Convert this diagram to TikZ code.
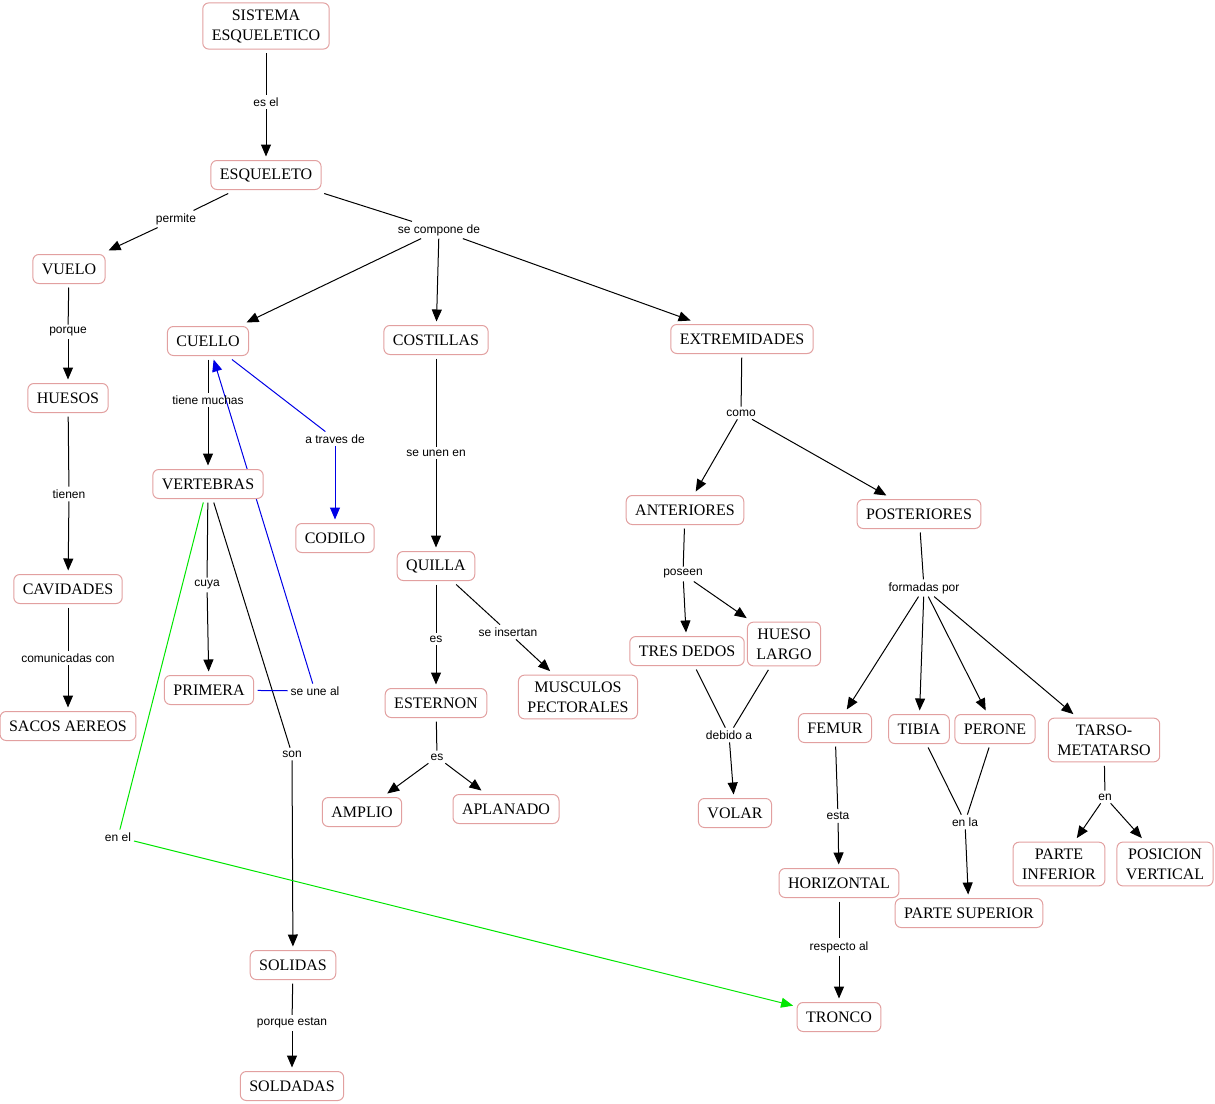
\documentclass[tikz,border=0pt]{standalone}
\usepackage{fontspec}
\setmainfont{Liberation Serif}
\newfontfamily\linkfont{Liberation Sans}
\usetikzlibrary{arrows.meta,backgrounds}
\definecolor{cmapedge}{RGB}{226,160,160}
\definecolor{cmapblue}{RGB}{0,0,230}
\definecolor{cmapgreen}{RGB}{0,230,0}

\tikzset{
    concept/.style={draw=cmapedge, fill=white, rounded corners=6pt, align=center,
        inner xsep=9pt, inner ysep=6.5pt, minimum height=29pt, outer sep=4pt,
        font=\fontsize{16}{20}\selectfont},
    link/.style={font=\linkfont\fontsize{12}{14}\selectfont, inner sep=2pt, outer sep=1pt},
    tip/.style={-{Triangle[length=12pt,width=10pt]}},
    connector/.style={line width=1pt},
}

\begin{document}
\begin{tikzpicture}[x=1pt,y=-1pt,line width=1pt]
        \useasboundingbox (0,0) rectangle (1215,1103);

        % concepts
        \node[concept] (sis) at (266,26) {SISTEMA\\ESQUELETICO};
        \node[concept] (esq) at (266,175) {ESQUELETO};
        \node[concept] (vuelo) at (69,269) {VUELO};
        \node[concept] (huesos) at (68,398) {HUESOS};
        \node[concept] (cavid) at (68,589) {CAVIDADES};
        \node[concept] (sacos) at (68,726) {SACOS AEREOS};
        \node[concept] (cuello) at (208,341) {CUELLO};
        \node[concept] (vert) at (208,484) {VERTEBRAS};
        \node[concept] (codilo) at (335,538) {CODILO};
        \node[concept] (primera) at (209,690) {PRIMERA};
        \node[concept] (solidas) at (293,965) {SOLIDAS};
        \node[concept] (soldadas) at (292,1086) {SOLDADAS};
        \node[concept] (cost) at (436,340) {COSTILLAS};
        \node[concept] (quilla) at (436,566) {QUILLA};
        \node[concept] (estern) at (436,703) {ESTERNON};
        \node[concept] (musc) at (578,697) {MUSCULOS\\PECTORALES};
        \node[concept] (amplio) at (362,812) {AMPLIO};
        \node[concept] (aplan) at (506,809) {APLANADO};
        \node[concept] (extrem) at (742,339) {EXTREMIDADES};
        \node[concept] (anter) at (685,510) {ANTERIORES};
        \node[concept] (poster) at (919,514) {POSTERIORES};
        \node[concept] (tres) at (687,651) {TRES DEDOS};
        \node[concept] (hueso) at (784,644) {HUESO\\LARGO};
        \node[concept] (volar) at (735,813) {VOLAR};
        \node[concept] (femur) at (835,728) {FEMUR};
        \node[concept] (tibia) at (919,729) {TIBIA};
        \node[concept] (perone) at (995,729) {PERONE};
        \node[concept] (tarso) at (1104,740) {TARSO-\\METATARSO};
        \node[concept] (pinf) at (1059,864) {PARTE\\INFERIOR};
        \node[concept] (pvert) at (1165,864) {POSICION\\VERTICAL};
        \node[concept] (psup) at (969,913) {PARTE SUPERIOR};
        \node[concept] (horiz) at (839,883) {HORIZONTAL};
        \node[concept] (tronco) at (839,1017) {TRONCO};

        % linking phrases
        \node[link] (esel) at (266,102) {es el};
        \node[link] (permite) at (176,219) {permite};
        \node[link] (secomp) at (439,230) {se compone de};
        \node[link] (porque) at (68,332) {porque};
        \node[link] (tienen) at (69,494) {tienen};
        \node[link] (comun) at (68,658) {comunicadas con};
        \node[link] (tiene) at (208,400) {tiene muchas};
        \node[link] (traves) at (335,439) {a traves de};
        \node[link] (cuya) at (207,585) {cuya};
        \node[link] (seune) at (315,691) {se une al};
        \node[link] (son) at (292,754) {son};
        \node[link] (enel) at (118,837) {en el};
        \node[link] (porqueest) at (292,1023) {porque estan};
        \node[link] (seunen) at (436,453) {se unen en};
        \node[link] (esA) at (436,639) {es};
        \node[link] (seinsert) at (508,632) {se insertan};
        \node[link] (esB) at (437,757) {es};
        \node[link] (como) at (741,413) {como};
        \node[link] (poseen) at (683,574) {poseen};
        \node[link] (debido) at (729,735) {debido a};
        \node[link] (formadas) at (924,588) {formadas por};
        \node[link] (esta) at (838,816) {esta};
        \node[link] (respecto) at (839,947) {respecto al};
        \node[link] (enla) at (965,822) {en la};
        \node[link] (en) at (1105,797) {en};

        \begin{pgfonlayer}{background}
        % concept to phrase
        \foreach \a/\b in {sis/esel, esq/permite, esq/secomp, vuelo/porque,
            huesos/tienen, cavid/comun, cuello/tiene, vert/cuya, vert/son,
            solidas/porqueest, cost/seunen, quilla/esA, quilla/seinsert,
            estern/esB, extrem/como, anter/poseen, tres/debido, hueso/debido,
            poster/formadas, femur/esta, horiz/respecto, tibia/enla,
            perone/enla, tarso/en}{
            \draw[connector] (\a) -- (\b);
        }

        % phrase to concept
        \foreach \a/\b in {esel/esq, permite/vuelo, secomp/cuello, secomp/cost,
            secomp/extrem, porque/huesos, tienen/cavid, comun/sacos,
            tiene/vert, cuya/primera, son/solidas, porqueest/soldadas,
            seunen/quilla, esA/estern, seinsert/musc, esB/amplio, esB/aplan,
            como/anter, como/poster, poseen/tres, poseen/hueso, debido/volar,
            formadas/femur, formadas/tibia, formadas/perone, formadas/tarso,
            esta/horiz, respecto/tronco, enla/psup, en/pinf, en/pvert}{
            \draw[connector,tip] (\a) -- (\b);
        }

        % blue links
        \draw[connector,cmapblue] (cuello) -- (traves);
        \draw[connector,cmapblue,tip] (traves) -- (codilo);
        \draw[connector,cmapblue] (primera) -- (seune);
        \draw[connector,cmapblue,tip] (seune) -- (cuello);

        % green link
        \draw[connector,cmapgreen] (vert) -- (enel);
        \draw[connector,cmapgreen,tip] (enel) -- (tronco);
        \end{pgfonlayer}
\end{tikzpicture}
\end{document}
